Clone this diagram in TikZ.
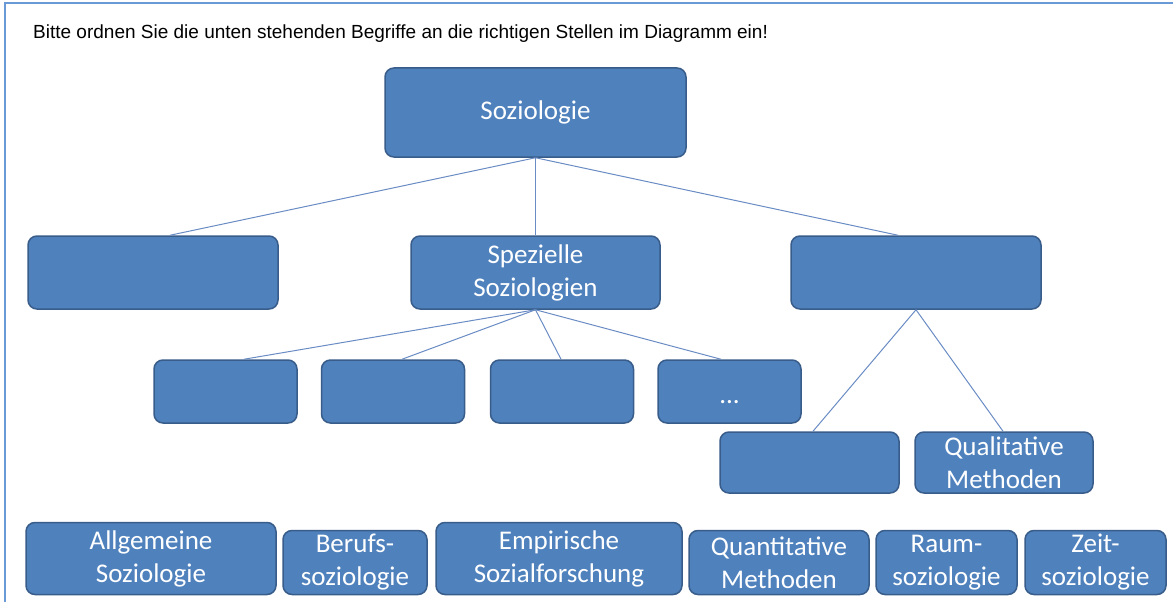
\documentclass[tikz,border=0pt]{standalone}
\usepackage{fontspec}
\setmainfont{Carlito}
\newfontfamily\titlefont{Liberation Sans}
\definecolor{boxfill}{HTML}{4F81BD}
\definecolor{boxdraw}{HTML}{385D8A}
\definecolor{linecol}{HTML}{6A8CC4}
\definecolor{framecol}{HTML}{6A9AD6}
\tikzset{
  box/.style={rectangle, rounded corners=9pt, fill=boxfill, draw=boxdraw, line width=1.5pt,
    inner sep=0pt, align=center, text=white, font=\fontsize{27}{33}\selectfont},
  conn/.style={draw=linecol, line width=1pt}
}
\begin{document}
\begin{tikzpicture}[x=1pt,y=-1pt]
\useasboundingbox (0,0) rectangle (1173,602);
\fill[white] (0,0) rectangle (1173,602);
\draw[framecol, line width=2pt] (5,602) -- (5,3) -- (1173,3);
\node[anchor=base west, inner sep=0pt, font=\titlefont\fontsize{19}{21}\selectfont] (title) at (33,39)
  {Bitte ordnen Sie die unten stehenden Begriffe an die richtigen Stellen im Diagramm ein!};

\node[box, minimum width=301pt, minimum height=89pt] (soz) at (535.5,112.5) {Soziologie};
\node[box, minimum width=250pt, minimum height=73pt] (L) at (153,272.5) {};
\node[box, minimum width=249pt, minimum height=73pt] (spez) at (535.5,272.5) {Spezielle\\Soziologien};
\node[box, minimum width=250pt, minimum height=73pt] (R) at (916,272.5) {};

\node[box, minimum width=143pt, minimum height=63pt] (c1) at (225.5,391.5) {};
\node[box, minimum width=143pt, minimum height=63pt] (c2) at (393,391.5) {};
\node[box, minimum width=143pt, minimum height=63pt] (c3) at (562,391.5) {};
\node[box, minimum width=143pt, minimum height=63pt, text height=24pt, text depth=0pt] (c4) at (729.5,391.5) {...};

\node[box, minimum width=179pt, minimum height=61pt] (m1) at (809.5,462.5) {};
\node[box, minimum width=178pt, minimum height=61pt] (qual) at (1004,462.5) {Qualitative\\Methoden};

\node[box, minimum width=250pt, minimum height=72pt] (allg) at (151,558.5) {Allgemeine\\Soziologie};
\node[box, minimum width=144pt, minimum height=64pt] (beruf) at (355,562.5) {Berufs-\\soziologie};
\node[box, minimum width=246pt, minimum height=72pt] (emp) at (559,558.5) {Empirische\\Sozialforschung};
\node[box, minimum width=180pt, minimum height=64pt] (quant) at (779,562.5) {Quantitative\\Methoden};
\node[box, minimum width=141pt, minimum height=64pt] (raum) at (946.5,562.5) {Raum-\\soziologie};
\node[box, minimum width=141pt, minimum height=64pt] (zeit) at (1095.5,562.5) {Zeit-\\soziologie};

\draw[conn] (soz.south) -- ([xshift=17pt]L.north);
\draw[conn] (soz.south) -- (spez.north);
\draw[conn] (soz.south) -- ([xshift=-18pt]R.north);

\draw[conn] (spez.south) -- ([xshift=18.5pt]c1.north);
\draw[conn] (spez.south) -- ([xshift=9pt]c2.north);
\draw[conn] (spez.south) -- ([xshift=-1pt]c3.north);
\draw[conn] (spez.south) -- ([xshift=-8.5pt]c4.north);

\draw[conn] (R.south) -- ([xshift=3.5pt]m1.north);
\draw[conn] (R.south) -- ([xshift=-1pt]qual.north);
\end{tikzpicture}
\end{document}
